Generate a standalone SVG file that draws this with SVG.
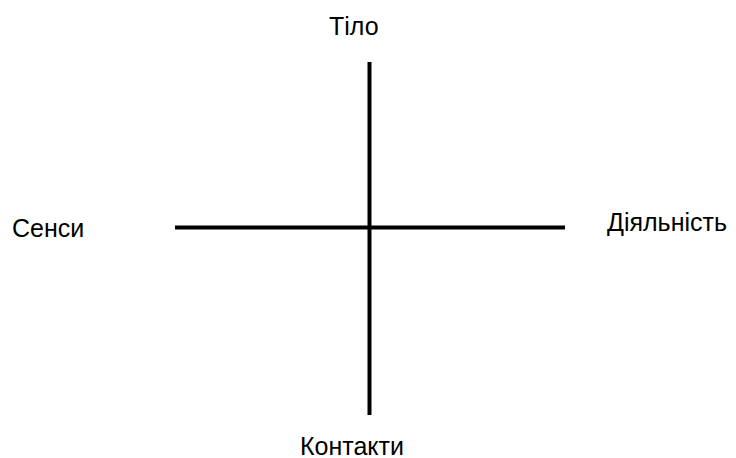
<svg xmlns="http://www.w3.org/2000/svg" width="736" height="458" viewBox="0 0 736 458">
<style>
.lbl{font-family:"Liberation Sans",Arial,sans-serif;font-size:25px;fill:#000}
.axis{stroke:#000;stroke-width:4;fill:none}
</style>
<rect width="736" height="458" fill="#fff"/>
<g id="connectors">
<line class="axis" x1="369.5" y1="62" x2="369.5" y2="415"/>
<line class="axis" x1="175" y1="227.5" x2="565" y2="227.5"/>
</g>
<g id="tilo"><text class="lbl" x="329" y="35">Тіло</text></g>
<g id="sensy"><text class="lbl" x="12" y="237">Сенси</text></g>
<g id="diialnist"><text class="lbl" x="607" y="231">Діяльність</text></g>
<g id="kontakty"><text class="lbl" x="300" y="455">Контакти</text></g>
</svg>
